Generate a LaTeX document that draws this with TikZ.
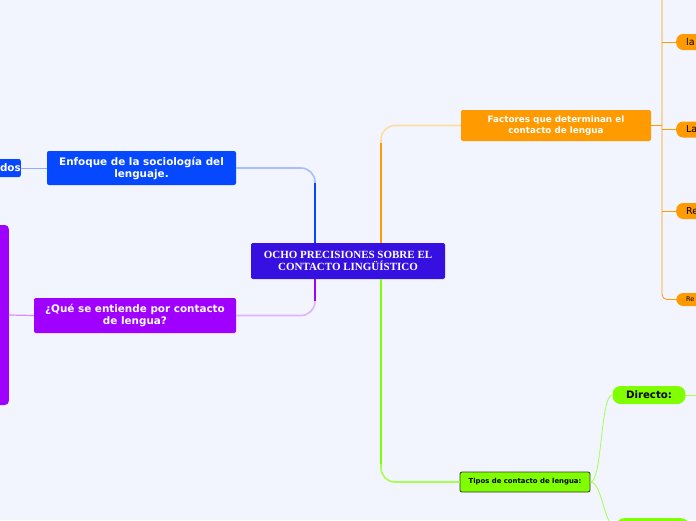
\documentclass[tikz,border=0pt]{standalone}
\usepackage{fontspec}
\setmainfont{DejaVu Sans}
\newfontfamily\titlefont{Liberation Serif}
\usetikzlibrary{positioning}
\definecolor{canvas}{HTML}{F2F5FD}
\definecolor{rootblue}{HTML}{3510E0}
\definecolor{enfblue}{HTML}{0548FF}
\definecolor{quepurple}{HTML}{A000FF}
\definecolor{factorange}{HTML}{FF9A00}
\definecolor{tipgreen}{HTML}{80FF00}
\tikzset{
  rootbox/.style={
    fill=rootblue,
    rounded corners=2pt,
    text=white,
    align=center,
    minimum width=194pt,
    minimum height=36pt,
    inner sep=0pt,
    font=\titlefont\bfseries\fontsize{11}{11.5}\selectfont
  },
  topicbox/.style={
    rounded corners=2pt,
    text=white,
    align=center,
    inner sep=0pt,
    font=\bfseries\fontsize{10.4}{12}\selectfont
  },
  leafpill/.style={
    fill=factorange,
    rounded corners=7pt,
    inner xsep=10pt,
    inner ysep=0pt,
    minimum height=16pt,
    text width=40pt,
    align=left,
    font=\fontsize{9.5}{10}\selectfont
  },
  greenpill/.style={
    fill=tipgreen,
    rounded corners=8pt,
    inner sep=0pt,
    minimum width=73pt,
    minimum height=18pt,
    font=\bfseries\fontsize{10.2}{11}\selectfont
  },
  branchline/.style={line width=1.6pt,rounded corners=14pt},
  twigline/.style={line width=0.8pt,rounded corners=5pt}
}

\begin{document}
\begin{tikzpicture}[x=1pt,y=-1pt]
\useasboundingbox (0,0) rectangle (696,520);
\fill[canvas] (0,0) rectangle (696,520);
\clip (0,0) rectangle (696,520);

% central topic
\node[rootbox] (root) at (348,261) {OCHO PRECISIONES SOBRE EL\\CONTACTO LINGÜÍSTICO};

% main topics
\node[topicbox,fill=enfblue,minimum width=189pt,minimum height=34pt] (enfoque) at (141.5,168) {Enfoque de la sociología del\\lenguaje.};
\node[topicbox,fill=quepurple,minimum width=202pt,minimum height=35pt] (que) at (135,315.5) {¿Qué se entiende por contacto\\de lengua?};
\node[topicbox,fill=factorange,minimum width=190pt,minimum height=31pt,font=\bfseries\fontsize{8.8}{11}\selectfont] (factores) at (556,125.5) {Factores que determinan el\\contacto de lengua};
\node[topicbox,fill=tipgreen,draw=black!80,line width=0.8pt,text=black,minimum width=130pt,minimum height=20pt,font=\bfseries\fontsize{6.9}{8}\selectfont] (tipos) at (525,482) {Tipos de contacto de lengua:};

% subtopics
\node[topicbox,fill=enfblue,anchor=east,text width=46pt,align=right,minimum height=18pt] (dos) at (21,168) {dos};
\node[topicbox,fill=quepurple,anchor=east,minimum width=40pt,minimum height=180pt,rounded corners=4pt] (quesub) at (9,315) {};
\node[leafpill,anchor=west] (fla) at (676,42) {la};
\node[leafpill,anchor=west] (fLa) at (676,129.5) {La};
\node[leafpill,anchor=west] (fre) at (676,211) {Re};
\node[leafpill,anchor=west,minimum height=13pt,font=\fontsize{6.5}{7}\selectfont] (fres) at (676,299.5) {Re};
\node[greenpill] (directo) at (649,395) {Directo:};
\node[greenpill,anchor=north west] (indirecto) at (616,518) {};
\coordinate (spine) at (662,-10);
\coordinate (dirout) at (700,395);

% branches from the centre
\draw[branchline,enfblue!35] ([xshift=-33pt]root.north) |- (enfoque.east);
\draw[branchline,enfblue] ([xshift=-33pt]root.north) -- ++(0,-60);
\draw[branchline,quepurple!30] ([xshift=-33pt]root.south) |- (que.east);
\draw[branchline,quepurple] ([xshift=-33pt]root.south) -- ++(0,22);
\draw[branchline,factorange!35] ([xshift=33pt]root.north) |- (factores.west);
\draw[branchline,factorange] ([xshift=33pt]root.north) -- ++(0,-100);
\draw[branchline,tipgreen!70] ([xshift=33pt]root.south) |- (tipos.west);
\draw[branchline,tipgreen] ([xshift=33pt]root.south) -- ++(0,185);

% smaller branches
\draw[line width=1pt,enfblue!45] (dos.east) -- (enfoque.west);
\draw[line width=1.2pt,quepurple!45] (quesub.east) -- (que.west);
\draw[line width=1.2pt,factorange] (factores.east) -- (factores.east -| spine);
\draw[twigline,factorange] (spine) |- (fres.west);
\draw[twigline,factorange] (fla.west -| spine) -- (fla.west);
\draw[twigline,factorange] (fLa.west -| spine) -- (fLa.west);
\draw[twigline,factorange] (fre.west -| spine) -- (fre.west);
\draw[line width=0.8pt,tipgreen!70] (tipos.east) .. controls +(12,0) and +(-12,0) .. (directo.west);
\draw[line width=0.8pt,tipgreen!70] (tipos.east) .. controls +(12,0) and +(-12,0) .. (indirecto.west);
\draw[line width=0.8pt,tipgreen!70] (directo.east) -- (dirout);
\end{tikzpicture}
\end{document}
